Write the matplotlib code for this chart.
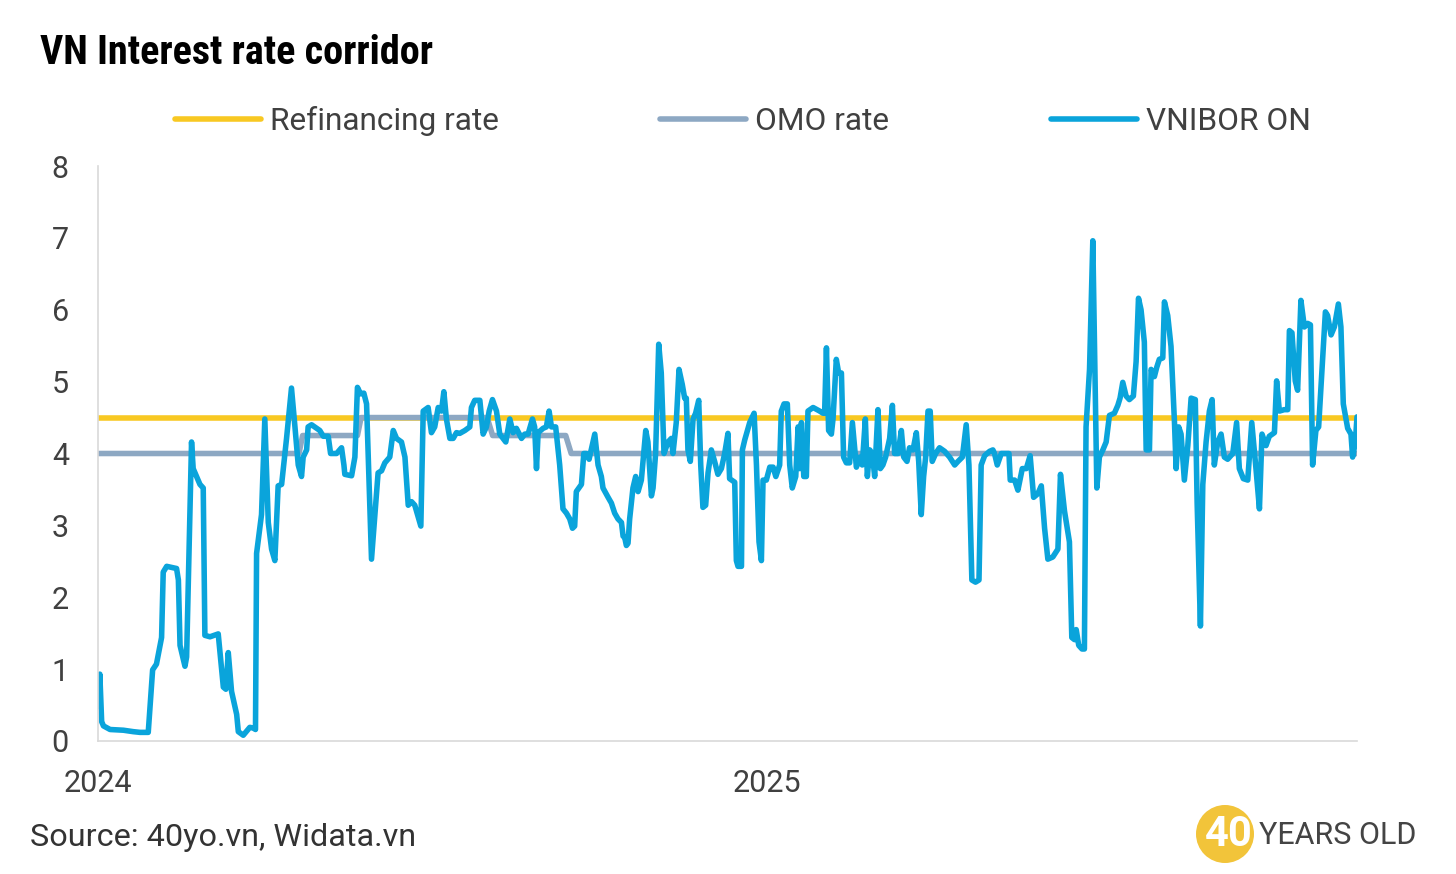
import matplotlib
matplotlib.use("Agg")
import matplotlib.pyplot as plt
import pandas as pd
from matplotlib.patches import Ellipse

plt.rcParams["font.family"] = ["Roboto", "DejaVu Sans"]

START = pd.Timestamp("2024-01-01")

# VNIBOR overnight (days since 2024-01-01, % p.a.)
vnibor_days = [
    0, 1, 2, 3, 6.6, 13.9, 19.3, 23, 27.5, 29.9,
    32, 34.8, 35.7, 37.6, 43, 44, 44.9, 47.6, 48.5, 51.2,
    52.1, 55.8, 57.6, 58.5, 61.3, 65.8, 68.6, 70, 71.3, 73.1,
    75.9, 76.8, 79.5, 83.1, 85, 86.2, 86.8, 89.5, 91.3, 93.2,
    95, 96.8, 98.6, 100.5, 103.2, 105.9, 107.8, 109.6, 111.4, 112.3,
    114.2, 115, 116.9, 121.4, 123.3, 126, 127.3, 130.6, 133.3, 134.6,
    135.1, 138.8, 140.6, 142, 143.7, 145.5, 147, 149.7, 153.3, 155.2,
    157, 159.7, 161.6, 163.4, 166.1, 168, 169.8, 171.6, 173.4, 175.2,
    176.7, 178, 180.7, 182.5, 184.3, 186.2, 188, 189.3, 190.7, 192.6,
    194.4, 196.2, 198, 200.8, 203.5, 204.4, 206.2, 209, 210.8, 212.6,
    214.1, 215.9, 218.1, 219.9, 223.2, 225.4, 227.2, 229, 231.8, 233.6,
    235.4, 237.8, 239, 240, 240.9, 243.6, 245.4, 246.9, 248.2, 250.5,
    252.7, 254.5, 256.4, 258.2, 259.7, 260.9, 261.8, 264.6, 265.9, 267.3,
    268.8, 271.9, 273.7, 275.5, 276.4, 279.2, 281, 282.8, 284.6, 286.5,
    287.4, 288.3, 289.2, 290.1, 291, 292.8, 294.3, 295.6, 297.4, 299.8,
    301, 302.9, 303.8, 305.2, 306.9, 308.3, 309.8, 312, 313.8, 314.7,
    316.5, 318, 319.8, 321.1, 322, 322.9, 324.2, 325.7, 327.1, 328.8,
    329.9, 331.1, 332.6, 333.9, 335.7, 337.5, 339.3, 341.2, 343, 344.8,
    345.7, 348.5, 349.4, 350.3, 352.2, 352.7, 354, 356.7, 359.1, 360.4,
    361.8, 363.1, 364, 365.8, 367.7, 369.5, 371, 373.1, 374, 375.5,
    377.3, 378.6, 380, 381.9, 383.2, 384.1, 385, 386.3, 387.7, 388.6,
    391.4, 395, 396.8, 397.7, 398.7, 399.9, 401.4, 402.3, 404.1, 405.4,
    406.9, 408.1, 409.6, 411.4, 412.9, 415.1, 416.9, 418.3, 420, 421.1,
    422.4, 423.8, 425.1, 426.9, 428.2, 429.6, 431.1, 433.3, 434.8, 436,
    437.9, 439.7, 441, 442.8, 444.2, 446.1, 447.9, 449.2, 450.6, 451.9,
    453, 454.3, 455.5, 456.6, 458.5, 460.6, 463.4, 466.1, 468.9, 470.7,
    473.1, 475.2, 476.7, 478.3, 480.3, 482.2, 483.4, 485.3, 488, 489.8,
    490.7, 492.2, 494.4, 496.7, 498.6, 499.3, 501.7, 503.5, 505.9, 508.1,
    510.2, 512.1, 514.4, 516.3, 518.1, 519.9, 522.6, 525.4, 526.8, 529,
    531.7, 533, 534.5, 535.4, 536.8, 538.6, 539.9, 540.8, 542.7, 544.5,
    545.4, 546.7, 548.1, 550, 551.8, 553.6, 556.3, 558.2, 559.4, 560.9,
    562.7, 564.5, 566.7, 568.2, 569.5, 570.9, 572.7, 573.7, 575.5, 576.4,
    578.2, 579.5, 580.9, 582.8, 583.7, 585.5, 587.3, 589.2, 590.1, 591.5,
    592.8, 594.6, 596.5, 598.3, 600.6, 601.6, 603.4, 604.7, 606.5, 608.3,
    609.8, 611, 612.9, 614.7, 616.5, 618.3, 621.1, 623.2, 624.7, 626.9,
    629.3, 631.5, 633.8, 635.7, 637.1, 639.3, 641.1, 643.9, 645.1, 646.6,
    649.3, 651.2, 652.1, 653.5, 655.3, 656.6, 658.4, 660.3, 662.1, 663.6,
    664.8, 666.6, 668.1, 671.8, 673, 674.9, 676.7, 678.9, 680.3, 681.6,
    684, 685.8, 686.7, 688.2, 689.1,
]
vnibor_rates = [
    0.48, 0.93, 0.27, 0.21, 0.16, 0.15, 0.13, 0.12, 0.12, 0.99,
    1.07, 1.44, 2.35, 2.43, 2.40, 2.24, 1.33, 1.04, 1.17, 4.16,
    3.79, 3.57, 3.52, 1.47, 1.45, 1.49, 0.75, 0.72, 1.23, 0.69,
    0.37, 0.13, 0.08, 0.19, 0.18, 0.16, 2.61, 3.15, 4.48, 3.04,
    2.67, 2.51, 3.55, 3.57, 4.21, 4.91, 4.37, 3.84, 3.68, 3.95,
    4.05, 4.37, 4.40, 4.32, 4.24, 4.24, 4.00, 4.00, 4.08, 3.84,
    3.71, 3.69, 3.95, 4.92, 4.83, 4.84, 4.69, 2.53, 3.73, 3.76,
    3.87, 3.95, 4.32, 4.21, 4.16, 3.95, 3.28, 3.33, 3.28, 3.12,
    2.99, 4.59, 4.64, 4.29, 4.37, 4.64, 4.59, 4.86, 4.48, 4.21,
    4.21, 4.29, 4.28, 4.32, 4.37, 4.64, 4.74, 4.74, 4.27, 4.37,
    4.59, 4.75, 4.59, 4.27, 4.16, 4.48, 4.29, 4.35, 4.21, 4.27,
    4.27, 4.48, 4.37, 3.79, 4.29, 4.35, 4.37, 4.59, 4.37, 4.37,
    3.84, 3.23, 3.17, 3.09, 2.96, 2.99, 3.47, 3.57, 4.00, 4.00,
    3.92, 4.27, 3.84, 3.68, 3.52, 3.39, 3.31, 3.17, 3.09, 3.04,
    2.85, 2.83, 2.72, 2.75, 3.09, 3.52, 3.68, 3.47, 3.63, 4.32,
    4.16, 3.41, 3.52, 4.00, 5.52, 5.12, 4.00, 4.16, 4.21, 4.00,
    4.43, 5.17, 4.96, 4.77, 4.77, 4.05, 3.89, 4.48, 4.56, 4.74,
    3.84, 3.25, 3.28, 3.73, 4.05, 3.89, 3.71, 3.79, 4.00, 4.28,
    3.65, 3.60, 2.51, 2.43, 2.43, 4.05, 4.19, 4.43, 4.56, 3.84,
    2.77, 2.51, 3.63, 3.63, 3.81, 3.81, 3.68, 3.84, 4.59, 4.69,
    4.69, 3.84, 3.52, 3.68, 4.37, 3.79, 4.43, 3.68, 3.68, 4.59,
    4.64, 4.59, 4.56, 4.56, 5.47, 4.32, 4.27, 4.48, 5.31, 5.12,
    5.12, 3.95, 3.87, 3.87, 4.43, 3.81, 3.95, 3.84, 4.48, 3.68,
    4.05, 4.00, 3.68, 4.61, 3.79, 3.84, 3.95, 4.21, 4.67, 4.00,
    4.00, 4.32, 3.95, 3.89, 4.08, 4.05, 4.29, 3.89, 3.15, 3.68,
    3.95, 4.59, 4.59, 3.89, 4.00, 4.08, 4.03, 3.95, 3.84, 3.89,
    3.95, 4.40, 3.84, 2.24, 2.21, 2.24, 3.84, 3.97, 4.03, 4.05,
    4.00, 3.84, 4.00, 4.00, 4.00, 3.63, 3.63, 3.49, 3.79, 3.79,
    3.97, 3.39, 3.44, 3.55, 2.96, 2.53, 2.56, 2.67, 3.71, 3.20,
    2.77, 1.44, 1.41, 1.55, 1.33, 1.28, 1.28, 4.37, 5.17, 6.96,
    5.55, 3.52, 3.95, 4.05, 4.16, 4.53, 4.56, 4.67, 4.77, 4.99,
    4.80, 4.75, 4.80, 5.28, 6.16, 6.00, 5.55, 4.05, 4.05, 5.17,
    5.07, 5.20, 5.31, 5.33, 6.11, 5.92, 5.49, 4.43, 3.79, 4.37,
    4.27, 3.63, 4.11, 4.77, 4.75, 3.31, 1.60, 3.57, 4.16, 4.59,
    4.75, 3.84, 4.16, 4.27, 3.95, 3.92, 4.00, 4.43, 3.79, 3.65,
    3.63, 4.43, 3.79, 3.23, 4.27, 4.11, 4.24, 4.29, 5.01, 4.59,
    4.61, 4.61, 5.71, 5.68, 5.01, 4.88, 6.13, 5.76, 5.81, 5.79,
    3.84, 4.32, 4.37, 5.97, 5.92, 5.65, 5.76, 6.08, 5.76, 4.69,
    4.35, 4.27, 3.95, 4.16, 4.51,
]

omo_days = [0, 110, 112, 142, 144, 213, 216, 256, 259, 689.1]
omo_rates = [4.0, 4.0, 4.25, 4.25, 4.5, 4.5, 4.25, 4.25, 4.0, 4.0]

refi_days = [0, 689.1]
refi_rates = [4.5, 4.5]

year_ticks = ["2024-01-01", "2025-01-01"]
year_labels = ["2024", "2025"]


def to_dates(days):
    return START + pd.to_timedelta(days, unit="D")


YELLOW = "#F8C822"
GREY = "#8DA8C3"
BLUE = "#0AA4DB"
TEXT = "#404040"

fig = plt.figure(figsize=(14.56, 8.74), dpi=100)
ax = fig.add_axes([98 / 1456, 1 - 741 / 874, (1357 - 98) / 1456, (741 - 166) / 874])

lw = 4.0
ax.plot(to_dates(refi_days), refi_rates, color=YELLOW, lw=lw, label="Refinancing rate",
        solid_capstyle="round")
ax.plot(to_dates(omo_days), omo_rates, color=GREY, lw=lw, label="OMO rate",
        solid_capstyle="round")
ax.plot(to_dates(vnibor_days), vnibor_rates, color=BLUE, lw=lw, label="VNIBOR ON",
        solid_capstyle="round", solid_joinstyle="round")

ax.set_xlim(START, to_dates([689.1])[0])
ax.set_ylim(0, 8)
ax.set_yticks(range(0, 9))
ax.set_xticks(pd.to_datetime(year_ticks))
ax.set_xticklabels(year_labels)
ax.tick_params(axis="both", length=0, labelsize=22, labelcolor=TEXT)
ax.tick_params(axis="y", pad=21)
ax.tick_params(axis="x", pad=20)

for side in ("top", "right"):
    ax.spines[side].set_visible(False)
for side in ("left", "bottom"):
    ax.spines[side].set_color("#D9D9D9")
    ax.spines[side].set_linewidth(1.2)

leg = ax.legend(loc="center", bbox_to_anchor=(743 / 1456, 1 - 121 / 874),
                bbox_transform=fig.transFigure, ncol=3, frameon=False,
                fontsize=22.8, handlelength=2.7, handletextpad=0.3,
                columnspacing=5.1, borderaxespad=0)
for t in leg.get_texts():
    t.set_color(TEXT)

fig.text(40 / 1456, 1 - 53 / 874, "VN Interest rate corridor", fontsize=29,
         fontweight="bold", color="black", va="center", ha="left",
         family=["Roboto Condensed", "Liberation Sans Narrow", "Roboto"])

fig.text(30 / 1456, 1 - 838 / 874, "Source: 40yo.vn, Widata.vn", fontsize=23.3,
         color="#333333", va="center", ha="left")

# logo
fig.add_artist(Ellipse((1225 / 1456, 1 - 834 / 874), 58 / 1456, 58 / 874,
                       transform=fig.transFigure, color="#F2C43A", lw=0))
fig.text(1229 / 1456, 1 - 835 / 874, "40", fontsize=30, fontweight="bold",
         color="white", va="center", ha="center")
fig.text(1259 / 1456, 1 - 835 / 874, "YEARS OLD", fontsize=22,
         color="#444444", va="center", ha="left")

fig.savefig("out.png", dpi=100)
